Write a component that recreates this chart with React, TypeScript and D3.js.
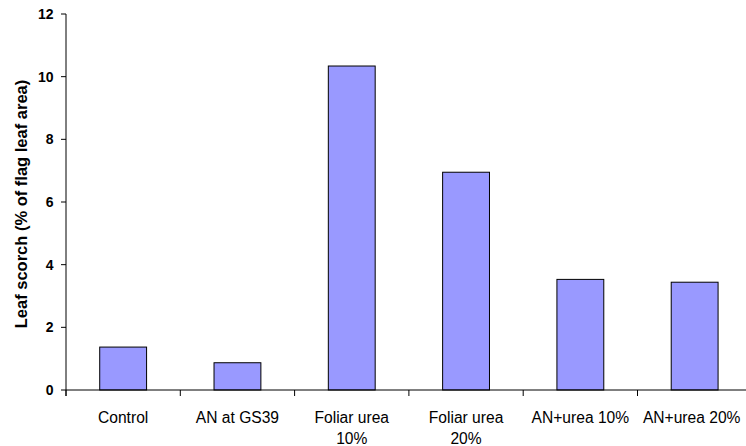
import React from "react";
import * as d3 from "d3";

const categories = [
  ["Control"],
  ["AN at GS39"],
  ["Foliar urea", "10%"],
  ["Foliar urea", "20%"],
  ["AN+urea 10%"],
  ["AN+urea 20%"],
];
const scorch = [1.37, 0.87, 10.34, 6.95, 3.53, 3.44];
const yTicks = [0, 2, 4, 6, 8, 10, 12];
const yTitle = "Leaf scorch (% of flag leaf area)";

const W = 746;
const H = 446;
const left = 66;
const right = 751.8;
const top = 14;
const bottom = 390;

export default function App() {
  const keys = categories.map((c) => c.join(" "));
  const x = d3.scaleBand<string>().domain(keys).range([left, right]).padding(0);
  const y = d3.scaleLinear().domain([0, 12]).range([bottom, top]);
  const bw = x.bandwidth();
  const barW = bw * 0.41;
  const boundaries = keys.map((k) => x(k) as number).concat([right]);

  return (
    <svg
      width={W}
      height={H}
      style={{ position: "absolute", left: 0, top: 0, background: "#fff" }}
      fontFamily="'Liberation Sans', Arial, sans-serif"
    >
      {/* bars */}
      {keys.map((k, i) => {
        const x0 = (x(k) as number) + (bw - barW) / 2;
        return (
          <rect
            key={k}
            x={x0}
            y={y(scorch[i])}
            width={barW}
            height={y(0) - y(scorch[i])}
            fill="#9999FF"
            stroke="#000"
            strokeWidth={1}
          />
        );
      })}

      {/* y axis */}
      <line x1={left} x2={left} y1={top} y2={bottom + 6} stroke="#000" strokeWidth={1} />
      {yTicks.map((t) => (
        <g key={t}>
          <line x1={left - 5} x2={left} y1={y(t)} y2={y(t)} stroke="#000" strokeWidth={1} />
          <text
            x={53.5}
            y={y(t)}
            dy="0.36em"
            textAnchor="end"
            fontSize={14}
            fontWeight="bold"
            fill="#000"
          >
            {t}
          </text>
        </g>
      ))}

      {/* x axis */}
      <line x1={left} x2={right} y1={bottom} y2={bottom} stroke="#000" strokeWidth={1} />
      {boundaries.map((b, i) => (
        <line key={i} x1={b} x2={b} y1={bottom} y2={bottom + 6} stroke="#000" strokeWidth={1} />
      ))}
      {categories.map((lines, i) => {
        const cx = Math.min((x(keys[i]) as number) + bw / 2, 691.7);
        return (
          <text key={keys[i]} textAnchor="middle" fontSize={15.6} fill="#000">
            {lines.map((ln, j) => (
              <tspan key={j} x={cx} y={422.5 + j * 21.8}>
                {ln}
              </tspan>
            ))}
          </text>
        );
      })}

      {/* y axis title */}
      <text
        transform={`translate(27, ${(top + bottom) / 2 + 2}) rotate(-90)`}
        textAnchor="middle"
        fontSize={16.5}
        fontWeight="bold"
        fill="#000"
      >
        {yTitle}
      </text>
    </svg>
  );
}
